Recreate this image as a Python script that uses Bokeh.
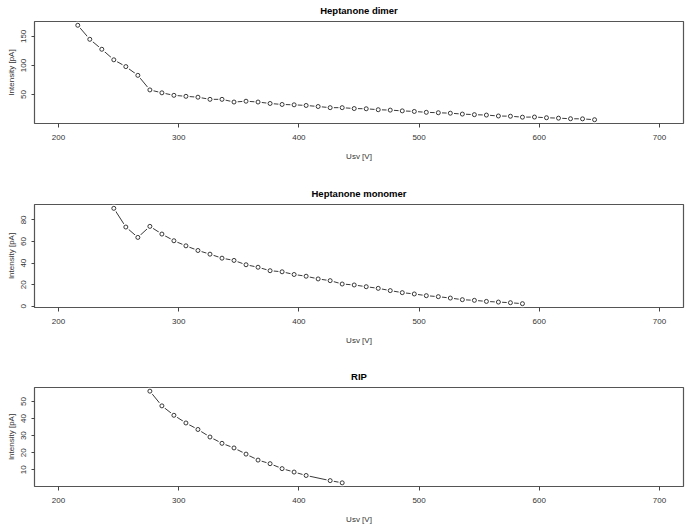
from bokeh.plotting import figure
from bokeh.layouts import column
from bokeh.models import Range1d, FixedTicker, LinearAxis
from bokeh.embed import file_html
from bokeh.resources import INLINE

# ---- data ----
x_ticks = [200, 300, 400, 500, 600, 700]

dimer_x = [216, 226, 236, 246, 256, 266, 276, 286, 296, 306, 316, 326, 336, 346, 356,
           366, 376, 386, 396, 406, 416, 426, 436, 446, 456, 466, 476, 486, 496, 506,
           516, 526, 536, 546, 556, 566, 576, 586, 596, 606, 616, 626, 636, 646]
dimer_y = [169.0, 144.9, 127.8, 109.7, 98.0, 83.0, 58.0, 53.0, 48.7, 47.0, 45.5, 41.8,
           41.8, 37.2, 38.6, 37.2, 34.7, 33.0, 32.4, 31.3, 29.5, 27.5, 27.5, 26.0, 25.6,
           24.0, 23.3, 22.0, 21.0, 19.5, 18.8, 18.0, 16.5, 15.5, 14.8, 13.2, 12.8, 11.2,
           11.4, 10.2, 9.5, 8.5, 8.3, 6.8]
dimer_yticks = [50, 100, 150]

monomer_x = [246, 256, 266, 276, 286, 296, 306, 316, 326, 336, 346, 356, 366, 376, 386,
             396, 406, 416, 426, 436, 446, 456, 466, 476, 486, 496, 506, 516, 526, 536,
             546, 556, 566, 576, 586]
monomer_y = [90.7, 73.4, 63.8, 74.0, 66.9, 60.7, 56.0, 51.7, 48.3, 44.6, 42.5, 38.5,
             36.2, 33.0, 32.0, 29.5, 27.9, 25.4, 23.8, 20.7, 19.8, 18.2, 16.7, 14.6,
             12.7, 11.5, 9.9, 9.0, 7.7, 6.2, 5.6, 4.6, 4.0, 3.4, 2.5]
monomer_yticks = [0, 20, 40, 60, 80]

rip_x = [276, 286, 296, 306, 316, 326, 336, 346, 356, 366, 376, 386, 396, 406, 426, 436]
rip_y = [56.0, 47.4, 41.9, 37.4, 33.6, 29.2, 25.5, 22.8, 19.2, 15.7, 13.6, 10.7, 8.7,
         6.7, 3.7, 2.4]
rip_yticks = [10, 20, 30, 40, 50]

FONT = "Liberation Sans"
X_MIN, X_MAX = 180, 720


def panel(title, xs, ys, yticks, height, border_bottom):
    lo, hi = min(ys), max(ys)
    pad = 0.04 * (hi - lo)
    y0, y1 = lo - pad, hi + pad
    p = figure(width=685, height=height, output_backend="svg", toolbar_location=None,
               x_range=Range1d(X_MIN, X_MAX), y_range=Range1d(y0, y1),
               min_border_left=34, min_border_right=2, min_border_top=21,
               min_border_bottom=border_bottom)

    p.grid.visible = False
    p.outline_line_color = "#555555"
    p.outline_line_width = 1.2
    p.background_fill_color = "white"
    p.border_fill_color = "white"

    for ax in (p.xaxis, p.yaxis):
        ax.axis_line_color = None
        ax.major_tick_line_color = "#444444"
        ax.major_tick_in = 0
        ax.minor_tick_line_color = None
        ax.major_label_text_font = FONT
        ax.major_label_text_font_size = "8px"
        ax.major_label_text_color = "#333333"
        ax.axis_label_text_font = FONT
        ax.axis_label_text_font_size = "8px"
        ax.axis_label_text_font_style = "normal"
        ax.axis_label_text_color = "#333333"

    p.xaxis.ticker = FixedTicker(ticks=x_ticks)
    p.xaxis.major_tick_out = 4
    p.xaxis.major_label_standoff = 7
    p.xaxis.axis_label = "Usv [V]"
    p.xaxis.axis_label_standoff = 9

    p.yaxis.ticker = FixedTicker(ticks=yticks)
    p.yaxis.major_tick_out = 3
    p.yaxis.major_label_orientation = "vertical"
    p.yaxis.major_label_standoff = 5
    p.yaxis.axis_label = "Intensity [pA]"
    p.yaxis.axis_label_standoff = 3

    # title, centred over the plot box (an empty axis above carries it)
    top = LinearAxis(ticker=FixedTicker(ticks=[]), axis_line_color=None,
                     major_tick_line_color=None, minor_tick_line_color=None,
                     major_label_text_font_size="0px", major_label_standoff=0,
                     major_tick_out=0, major_tick_in=0,
                     axis_label=title, axis_label_standoff=6,
                     axis_label_text_line_height=1.0,
                     axis_label_text_font=FONT, axis_label_text_font_size="9.5px",
                     axis_label_text_font_style="bold", axis_label_text_color="#000000")
    p.add_layout(top, "above")

    p.line(xs, ys, line_color="#222222", line_width=0.9)
    # gaps around the points (type="b")
    p.scatter(xs, ys, size=7.5, fill_color="white", line_color=None)
    p.scatter(xs, ys, size=4, marker="circle", fill_color="white",
              line_color="#222222", line_width=0.9)
    return p


p1 = panel("Heptanone dimer", dimer_x, dimer_y, dimer_yticks, 183, 60)
p2 = panel("Heptanone monomer", monomer_x, monomer_y, monomer_yticks, 183, 59)
p3 = panel("RIP", rip_x, rip_y, rip_yticks, 160, 37)

layout = column(p1, p2, p3, spacing=0)
open("out.html", "w").write(file_html(layout, INLINE))
